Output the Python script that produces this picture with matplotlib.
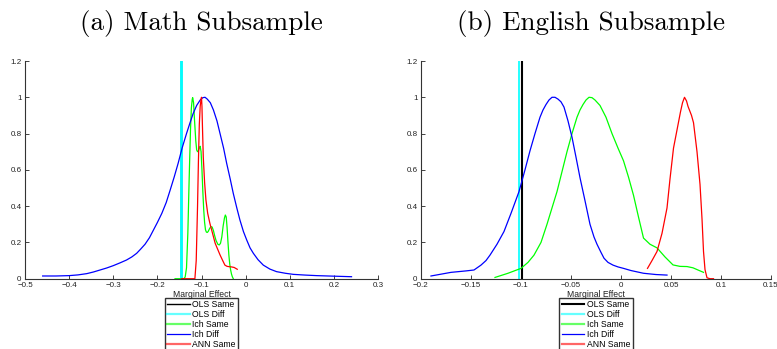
import matplotlib
matplotlib.use("Agg")
import matplotlib.pyplot as plt

plt.rcParams['font.family'] = ['Liberation Sans', 'DejaVu Sans']

# (a) Math subsample
math_ols_same = -0.146
math_ols_diff = -0.147
math_ich_same_x = [-0.160, -0.140, -0.137, -0.134, -0.131, -0.128, -0.125, -0.123, -0.121, -0.120,
                   -0.118, -0.116, -0.113, -0.111, -0.109, -0.107, -0.105, -0.103, -0.101, -0.099,
                   -0.097, -0.095, -0.093, -0.091, -0.089, -0.087, -0.085, -0.082, -0.079, -0.076,
                   -0.073, -0.070, -0.067, -0.063, -0.060, -0.057, -0.054, -0.051, -0.048, -0.046,
                   -0.044, -0.042, -0.040, -0.038, -0.036, -0.034, -0.032, -0.030, -0.028]
math_ich_same_y = [0.0, 0.0, 0.01, 0.06, 0.25, 0.55, 0.82, 0.94, 0.99, 0.998,
                   0.97, 0.88, 0.76, 0.71, 0.70, 0.705, 0.72, 0.73, 0.70, 0.60,
                   0.48, 0.38, 0.31, 0.27, 0.257, 0.255, 0.26, 0.275, 0.287, 0.285,
                   0.265, 0.235, 0.21, 0.19, 0.186, 0.195, 0.23, 0.29, 0.335, 0.351,
                   0.34, 0.28, 0.20, 0.13, 0.08, 0.048, 0.025, 0.01, 0.0]
math_ich_diff_x = [-0.460, -0.430, -0.400, -0.380, -0.360, -0.345, -0.330, -0.315, -0.300, -0.285,
                   -0.270, -0.258, -0.247, -0.238, -0.228, -0.218, -0.209, -0.200, -0.190, -0.180,
                   -0.171, -0.162, -0.153, -0.144, -0.134, -0.126, -0.119, -0.111, -0.103, -0.097,
                   -0.092, -0.087, -0.080, -0.073, -0.065, -0.058, -0.050, -0.043, -0.035, -0.028,
                   -0.020, -0.013, -0.005, 0.0025, 0.010, 0.0175, 0.028, 0.040, 0.055, 0.070,
                   0.090, 0.108, 0.135, 0.161, 0.200, 0.240]
math_ich_diff_y = [0.015, 0.015, 0.017, 0.021, 0.028, 0.037, 0.048, 0.059, 0.072, 0.087,
                   0.103, 0.12, 0.14, 0.163, 0.19, 0.226, 0.268, 0.31, 0.36, 0.42,
                   0.489, 0.56, 0.636, 0.72, 0.80, 0.86, 0.91, 0.955, 0.985, 0.998,
                   1.0, 0.99, 0.97, 0.93, 0.87, 0.80, 0.72, 0.636, 0.55, 0.47,
                   0.39, 0.324, 0.26, 0.213, 0.17, 0.14, 0.105, 0.075, 0.053, 0.039,
                   0.03, 0.024, 0.02, 0.017, 0.014, 0.011]
math_ann_same_x = [-0.145, -0.115, -0.112, -0.109, -0.107, -0.105, -0.103, -0.101, -0.100, -0.099,
                   -0.098, -0.096, -0.093, -0.090, -0.086, -0.081, -0.075, -0.069, -0.063, -0.058,
                   -0.052, -0.047, -0.042, -0.036, -0.032, -0.026, -0.019]
math_ann_same_y = [0.0, 0.0, 0.1, 0.4, 0.65, 0.85, 0.95, 0.99, 1.0, 0.95,
                   0.85, 0.67, 0.53, 0.434, 0.36, 0.305, 0.25, 0.195, 0.16, 0.131,
                   0.10, 0.075, 0.068, 0.066, 0.065, 0.062, 0.052]

# (b) English subsample
eng_ols_same = -0.099
eng_ols_diff = -0.1024
eng_ich_same_x = [-0.126, -0.113, -0.100, -0.093, -0.087, -0.080, -0.074, -0.069, -0.064, -0.059,
                  -0.054, -0.049, -0.044, -0.041, -0.038, -0.035, -0.032, -0.029, -0.026, -0.021,
                  -0.015, -0.009, -0.003, 0.0025, 0.0075, 0.0125, 0.0175, 0.0225, 0.029, 0.036,
                  0.044, 0.052, 0.059, 0.066, 0.072, 0.077, 0.0825]
eng_ich_same_y = [0.007, 0.03, 0.057, 0.09, 0.13, 0.20, 0.30, 0.39, 0.48, 0.59,
                  0.70, 0.80, 0.89, 0.93, 0.96, 0.985, 1.0, 0.998, 0.985, 0.955,
                  0.89, 0.80, 0.72, 0.65, 0.56, 0.46, 0.34, 0.224, 0.19, 0.17,
                  0.12, 0.076, 0.068, 0.067, 0.06, 0.048, 0.035]
eng_ich_diff_x = [-0.190, -0.170, -0.155, -0.147, -0.140, -0.135, -0.131, -0.124, -0.117, -0.110,
                  -0.102, -0.096, -0.091, -0.086, -0.081, -0.078, -0.075, -0.072, -0.069, -0.066,
                  -0.063, -0.060, -0.057, -0.053, -0.049, -0.045, -0.041, -0.036, -0.031, -0.027,
                  -0.024, -0.020, -0.017, -0.013, -0.008, -0.003, 0.0025, 0.010, 0.0225, 0.035, 0.046]
eng_ich_diff_y = [0.015, 0.035, 0.043, 0.048, 0.075, 0.10, 0.13, 0.19, 0.26, 0.36,
                  0.48, 0.60, 0.705, 0.80, 0.89, 0.93, 0.96, 0.985, 1.0, 1.0,
                  0.99, 0.975, 0.946, 0.87, 0.78, 0.67, 0.557, 0.43, 0.30, 0.23,
                  0.19, 0.145, 0.113, 0.09, 0.075, 0.065, 0.057, 0.045, 0.03, 0.023, 0.02]
eng_ann_same_x = [0.0265, 0.031, 0.036, 0.041, 0.046, 0.049, 0.0525, 0.056, 0.0595, 0.0615,
                  0.0635, 0.0655, 0.067, 0.0705, 0.0725, 0.076, 0.079, 0.081, 0.0825, 0.084,
                  0.086, 0.089, 0.0925]
eng_ann_same_y = [0.057, 0.10, 0.15, 0.25, 0.39, 0.55, 0.72, 0.82, 0.92, 0.97,
                  1.0, 0.98, 0.95, 0.90, 0.86, 0.70, 0.52, 0.33, 0.15, 0.05,
                  0.005, 0.0, 0.0]

labels = ["OLS Same", "OLS Diff", "Ich Same", "Ich Diff", "ANN Same"]

fig = plt.figure(figsize=(7.77, 3.49), dpi=100)
ax1 = fig.add_axes([0.0322, 0.2014, 0.4543, 0.6238])
ax2 = fig.add_axes([0.5418, 0.2014, 0.4505, 0.6238])


def draw(ax, ols_same, ols_diff, ich_same, ich_diff, ann_same, cyan_lw, black_lw):
    h1, = ax.plot([ols_same, ols_same], [0, 1.2], color="black", lw=black_lw)
    h2, = ax.plot([ols_diff, ols_diff], [0, 1.2], color="cyan", lw=cyan_lw)
    h3, = ax.plot(ich_same[0], ich_same[1], color=(0, 1, 0), lw=0.9)
    h4, = ax.plot(ich_diff[0], ich_diff[1], color="blue", lw=0.9)
    h5, = ax.plot(ann_same[0], ann_same[1], color="red", lw=0.9)
    ax.set_ylim(0, 1.2)
    ax.set_yticks([0, 0.2, 0.4, 0.6, 0.8, 1.0, 1.2])
    ax.set_yticklabels(["0", "0.2", "0.4", "0.6", "0.8", "1", "1.2"])
    for s in ["top", "right"]:
        ax.spines[s].set_visible(False)
    for s in ["left", "bottom"]:
        ax.spines[s].set_color("#333333")
        ax.spines[s].set_linewidth(0.8)
    ax.tick_params(direction="in", length=3, width=0.6, labelsize=5.8, pad=2.5,
                   colors="#222222")
    ax.set_xlabel("Marginal Effect", fontsize=6.2, labelpad=0.3, color="#222222")
    leg = ax.legend([h1, h2, h3, h4, h5], labels, loc="upper center",
                    bbox_to_anchor=(0.5, -0.088), fontsize=6.2, frameon=True,
                    fancybox=False, edgecolor="black", handlelength=2.6,
                    handletextpad=0.25, labelspacing=0.1, borderpad=0.3,
                    borderaxespad=0)
    leg.get_frame().set_linewidth(1.0)
    for line in leg.get_lines()[1:3] + leg.get_lines()[4:]:
        line.set_linewidth(1.6)
        line.set_alpha(0.6)
    return leg


draw(ax1, math_ols_same, math_ols_diff,
     (math_ich_same_x, math_ich_same_y), (math_ich_diff_x, math_ich_diff_y),
     (math_ann_same_x, math_ann_same_y), cyan_lw=2.0, black_lw=1.0)
ax1.set_xlim(-0.5, 0.3)
ax1.set_xticks([-0.5, -0.4, -0.3, -0.2, -0.1, 0, 0.1, 0.2, 0.3])
ax1.set_xticklabels(["\u22120.5", "\u22120.4", "\u22120.3", "\u22120.2", "\u22120.1",
                     "0", "0.1", "0.2", "0.3"])

draw(ax2, eng_ols_same, eng_ols_diff,
     (eng_ich_same_x, eng_ich_same_y), (eng_ich_diff_x, eng_ich_diff_y),
     (eng_ann_same_x, eng_ann_same_y), cyan_lw=1.2, black_lw=1.5)
ax2.set_xlim(-0.2, 0.15)
ax2.set_xticks([-0.2, -0.15, -0.1, -0.05, 0, 0.05, 0.1, 0.15])
ax2.set_xticklabels(["\u22120.2", "\u22120.15", "\u22120.1", "\u22120.05", "0",
                     "0.05", "0.1", "0.15"])

fig.text(0.259, 0.933, "(a) Math Subsample", fontfamily="cmr10", fontsize=19.5,
         ha="center", va="center")
fig.text(0.760, 0.933, "(b) English Subsample", fontfamily="cmr10", fontsize=19.5,
         ha="center", va="center")

fig.savefig("out.png", dpi=100)
